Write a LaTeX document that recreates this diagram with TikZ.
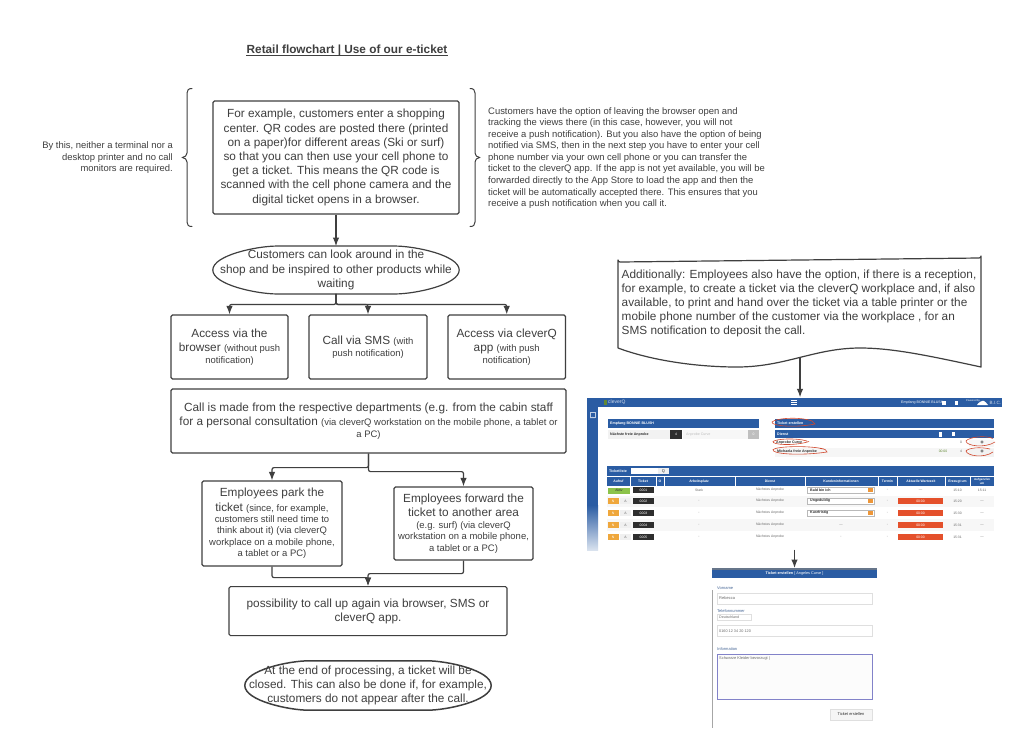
\documentclass[tikz,border=0pt]{standalone}
\usepackage{fontspec}
\setmainfont{Liberation Sans}
\usetikzlibrary{arrows.meta,calc,shapes.geometric}
\definecolor{ink}{HTML}{3F3F3F}
\definecolor{uiblue}{HTML}{2A5CA3}
\definecolor{uired}{HTML}{E4502B}
\definecolor{uiorange}{HTML}{EFA73C}
\definecolor{uigreen}{HTML}{8CC34A}
\definecolor{uidark}{HTML}{2E2E2E}
\definecolor{uitxt}{HTML}{6A6A6A}
\definecolor{circ}{HTML}{D0492F}
\newcommand{\mainsz}{\fontsize{11.8}{14.2}\selectfont}
\newcommand{\smallsz}{\fontsize{9.45}{11.4}\selectfont}
\newcounter{uic}
\newcommand{\uitext}[4][uitxt]{\stepcounter{uic}\node[text=#1,inner sep=0pt,font=\fontsize{3.4}{4}\selectfont] (ut\theuic) at (#2,#3) {#4};}
\newcommand{\uileft}[4][uitxt]{\stepcounter{uic}\node[text=#1,inner sep=0pt,anchor=west,font=\fontsize{3.6}{4}\selectfont] (ut\theuic) at (#2,#3) {#4};}
\newcommand{\termpath}[1]{%
  \draw[line] (#1.west)
    .. controls ($(#1.west)!0.62!(#1.north west)$) and ($(#1.north west)!0.18!(#1.north east)$) .. ($(#1.north west)!0.26!(#1.north east)$)
    -- ($(#1.north west)!0.74!(#1.north east)$)
    .. controls ($(#1.north west)!0.82!(#1.north east)$) and ($(#1.east)!0.62!(#1.north east)$) .. (#1.east)
    .. controls ($(#1.east)!0.62!(#1.south east)$) and ($(#1.south west)!0.82!(#1.south east)$) .. ($(#1.south west)!0.74!(#1.south east)$)
    -- ($(#1.south west)!0.26!(#1.south east)$)
    .. controls ($(#1.south west)!0.18!(#1.south east)$) and ($(#1.west)!0.62!(#1.south west)$) .. (#1.west) -- cycle;}
\tikzset{
  line/.style={draw=ink,line width=1.2pt},
  flowbox/.style={line,rounded corners=1.5pt,align=center,text=ink,font=\mainsz,inner sep=0pt},
  termbox/.style={align=center,text=ink,font=\mainsz,inner sep=0pt},
  nudge/.style={execute at begin node={\rule{0pt}{11pt}}},
  arr/.style={line,rounded corners=2pt,-{Latex[length=8.5pt,width=6.5pt]}},
  side/.style={text=ink,font=\fontsize{9.43}{11.55}\selectfont,inner sep=0pt},
  red/.style={draw=circ,line width=0.6pt},
}
\begin{document}
\begin{tikzpicture}[x=1pt,y=-1pt]
\useasboundingbox (0,0) rectangle (1024,750);
\fill[white] (0,0) rectangle (1024,750);

\node[text=ink,inner sep=0pt,font=\bfseries\fontsize{11.8}{14}\selectfont] (title) at (347,50.5) {Retail flowchart | Use of our e-ticket};
\draw[ink,line width=0.9pt] ($(title.south west)+(0,-0.8)$) -- ($(title.south east)+(0,-0.8)$);

% left column
\node[flowbox,nudge,minimum width=246pt,minimum height=113pt] (b1) at (336,157.5) {For example, customers enter a shopping\\center. QR codes are posted there (printed\\on a paper)for different areas (Ski or surf)\\so that you can then use your cell phone to\\get a ticket. This means the QR code is\\scanned with the cell phone camera and the\\digital ticket opens in a browser.};

\node[side,anchor=east,align=right] (lefttxt) at (173,158) {By this, neither a terminal nor a\\desktop printer and no call\\monitors are required.};
\node[side,anchor=west,align=left] (righttxt) at (488,158) {Customers have the option of leaving the browser open and\\tracking the views there (in this case, however, you will not\\receive a push notification). But you also have the option of being\\notified via SMS, then in the next step you have to enter your cell\\phone number via your own cell phone or you can transfer the\\ticket to the cleverQ app. If the app is not yet available, you will be\\forwarded directly to the App Store to load the app and then the\\ticket will be automatically accepted there. This ensures that you\\receive a push notification when you call it.};

% braces
\draw[line,line width=1pt,line cap=round] (192,88.5) .. controls (188.5,88.5) and (187,90) .. (187,93) -- (187,153) .. controls (187,155.5) and (185,157) .. (182.5,157.5) .. controls (185,158) and (187,159.5) .. (187,162) -- (187,222) .. controls (187,225) and (188.5,226.5) .. (192,226.5);
\draw[line,line width=1pt,line cap=round] (470,88.5) .. controls (473.5,88.5) and (475,90) .. (475,93) -- (475,153) .. controls (475,155.5) and (477,157) .. (479.5,157.5) .. controls (477,158) and (475,159.5) .. (475,162) -- (475,222) .. controls (475,225) and (473.5,226.5) .. (470,226.5);

\node[termbox,nudge,minimum width=246pt,minimum height=47.5pt] (e1) at (336,270) {Customers can look around in the\\shop and be inspired to other products while\\waiting};
\termpath{e1}
\draw[arr] (b1.south) -- (e1.north);

\node[flowbox,nudge,minimum width=117pt,minimum height=64pt] (a) at (229.5,347) {Access via the\\browser {\smallsz (without push}\\[-2.4pt]{\smallsz notification)}};
\node[flowbox,nudge,minimum width=118pt,minimum height=64pt] (s) at (368,347) {Call via SMS {\smallsz (with}\\[-2.4pt]{\smallsz push notification)}};
\node[flowbox,nudge,minimum width=117.5pt,minimum height=64pt] (c) at (506.7,347) {Access via cleverQ\\app {\smallsz (with push}\\[-2.4pt]{\smallsz notification)}};
\draw[arr] (e1.south) -- ++(0,10.5) -| (a.north);
\draw[arr] (e1.south) -- ++(0,10.5) -| (s.north);
\draw[arr] (e1.south) -- ++(0,10.5) -| (c.north);

\node[flowbox,nudge,minimum width=395pt,minimum height=64pt] (d) at (368.5,421) {Call is made from the respective departments (e.g. from the cabin staff\\for a personal consultation {\smallsz (via cleverQ workstation on the mobile phone, a tablet or}\\[-2.4pt]{\smallsz a PC)}};

\node[flowbox,minimum width=140pt,minimum height=85pt] (p) at (272,523.5) {Employees park the\\ticket {\smallsz (since, for example,}\\[-2.8pt]{\smallsz customers still need time to}\\[-2.8pt]{\smallsz think about it) (via cleverQ}\\[-2.8pt]{\smallsz workplace on a mobile phone,}\\[-2.8pt]{\smallsz a tablet or a PC)}};
\node[flowbox,minimum width=139pt,minimum height=73pt] (f) at (463.5,523.5) {Employees forward the\\ticket to another area\\[-2.6pt]{\smallsz (e.g. surf) (via cleverQ}\\[-2.8pt]{\smallsz workstation on a mobile phone,}\\[-2.8pt]{\smallsz a tablet or a PC)}};
\draw[arr] (d.south) -- ++(0,14) -| (p.north);
\draw[arr] (d.south) -- ++(0,18) -| (f.north);

\node[flowbox,minimum width=278pt,minimum height=49pt,anchor=north] (g) at (368,586) {possibility to call up again via browser, SMS or\\cleverQ app.\\[-12pt]~};
\draw[arr] (p.south) -- ++(0,11) -| (g.north);
\draw[arr] (f.south) -- ++(0,13) -| (g.north);

\node[termbox,nudge,minimum width=246pt,minimum height=49pt] (e2) at (368,685.5) {At the end of processing, a ticket will be\\closed. This can also be done if, for example,\\customers do not appear after the call.};
\begin{scope}[line/.append style={line width=1.5pt}]
\termpath{e2}
\end{scope}

% note
\node[text=ink,font=\mainsz,align=left,inner sep=0pt,anchor=west] (note) at (621.5,303.5) {Additionally: Employees also have the option, if there is a reception,\\for example, to create a ticket via the cleverQ workplace and, if also\\available, to print and hand over the ticket via a table printer or the\\mobile phone number of the customer via the workplace , for an\\SMS notification to deposit the call.};
\draw[line,line join=round] (618,348) -- (618,260) arc[start angle=180,end angle=270,radius=2pt] -- (979,258) arc[start angle=270,end angle=360,radius=2pt] -- (981,367)
  .. controls (930,356) and (893,348) .. (860,348)
  .. controls (815,348) and (785,367) .. (737,367)
  .. controls (695,367) and (650,360) .. (618,348) -- cycle;
\coordinate (noteb) at (800,358);

% screenshot frame
\node[minimum width=415pt,minimum height=152pt,inner sep=0pt] (ui) at (794.5,473.5) {};
\draw[arr] (noteb) -- (noteb |- ui.north);

% screenshot: top bar and sidebar
\fill[uiblue] (587,398) rectangle (1002,407);
\fill[uiblue] (587,407) rectangle (598,505);
\shade[top color=uiblue,bottom color=uiblue!18] (587,505) rectangle (598,550);
\draw[white!70!uiblue,line width=0.5pt] (590,412.5) rectangle (595,417);
\fill[white!70!uiblue] (590,418) -- (595,418) -- (592.5,416.8) -- cycle;
\fill[uigreen!70!black] (604,399.5) rectangle (607,405);
\uileft[white!80!uiblue]{608}{402.5}{\fontsize{5}{5}\selectfont cleverQ}
\foreach \yy in {400.3,402.3,404.3} \fill[white] (791,\yy) rectangle (797,\yy+1);
\uileft[white]{901}{402.5}{Empfang BONNIE BLUSH}
\fill[white] (942,400.5) rectangle (946,404.5);
\fill[white] (955,400.5) rectangle (957.5,404.5);
\uileft[white]{966}{400.5}{\fontsize{2.6}{3}\selectfont Powered by}
\fill[white] (977,405) .. controls (978,403) and (982,400) .. (984,401) .. controls (985,402) and (987,403) .. (988,405) -- cycle;
\uileft[white!80!uiblue]{989.5}{402.5}{\fontsize{4.6}{5}\selectfont B.I.C.}

% upper left panel
\fill[uiblue] (608,419) rectangle (759,428);
\uileft[white]{610}{423.5}{\bfseries Empfang BONNIE BLUSH}
\fill[gray!10] (608,430) rectangle (670,438.5);
\uileft[uidark]{610}{434.3}{\bfseries Nächste freie Anprobe}
\fill[uidark] (670,430) rectangle (682,438.5);
\uitext[white]{676}{434.3}{4}
\fill[gray!6] (683,430) rectangle (748,438.5);
\uileft[gray!50]{686}{434.3}{Anprobe Curve}
\fill[gray!50] (748,430) rectangle (759,438.5);
\uitext[white]{753.5}{434.3}{0}

% upper right panel
\fill[uiblue] (775,419) rectangle (994,428);
\uileft[white]{777}{423.5}{\bfseries Ticket erstellen}
\fill[uiblue] (775,430) rectangle (994,438);
\uileft[white]{777}{434}{\bfseries Dienst}
\fill[white] (939,431.5) rectangle (941.5,436.5);
\fill[white] (952,432) rectangle (955,436);
\uileft[uidark]{776}{442.5}{\bfseries Anprobe Curve}
\fill[gray!7] (775,448) rectangle (994,457);
\uileft[uidark]{777}{451.8}{\bfseries Michaela freie Anprobe}
\uitext[uigreen!70!black]{943}{451.8}{00:00}
\uitext[uitxt]{961}{442.5}{0}
\uitext[uitxt]{961}{451.8}{4}
\fill[gray!7] (969,439.5) rectangle (994,447);
\uitext[uidark]{982}{442.5}{\fontsize{6}{6}\selectfont\bfseries +}
\fill[gray!10] (969,449) rectangle (994,456.5);
\uitext[uidark]{982}{451.8}{\fontsize{6}{6}\selectfont\bfseries +}

% ticket list
\fill[uiblue] (607,466) rectangle (994,475.5);
\uileft[white]{609}{470.8}{\bfseries Ticketliste}
\fill[white] (631,468) rectangle (658,474);
\fill[gray!12] (658,468) rectangle (669,474);
\uitext[uidark]{663.5}{471}{\fontsize{4}{4}\selectfont Q}
\fill[uiblue] (607,477) rectangle (994,486);
\foreach \xx in {630,656,664,735,805,878,897,945,970} \draw[white,line width=0.4pt] (\xx,477) -- (\xx,486);
\uitext[white]{618.5}{481.5}{\bfseries Aufruf}
\uitext[white]{643}{481.5}{\bfseries Ticket}
\uitext[white]{660}{481.5}{\bfseries O}
\uitext[white]{699}{481.5}{\bfseries Arbeitsplatz}
\uitext[white]{770}{481.5}{\bfseries Dienst}
\uitext[white]{841}{481.5}{\bfseries Kundeninformationen}
\uitext[white]{887.5}{481.5}{\bfseries Termin}
\uitext[white]{921}{481.5}{\bfseries Aktuelle Wartezeit}
\uitext[white]{957.5}{481.5}{\bfseries Erzeugt um}
\stepcounter{uic}\node[text=white,inner sep=0pt,align=center,font=\bfseries\fontsize{3}{3.3}\selectfont] (ut\theuic) at (982,481.5) {Aufgerufen\\um};

\fill[gray!6] (607,495.5) rectangle (994,507);
\fill[gray!6] (607,519) rectangle (994,531);
\fill[uigreen] (608,487.5) rectangle (630,493.5);
\uitext[uidark]{619}{490.5}{Aktiv}
\foreach \yy [count=\ii] in {490,501,513,525,537} {
  \fill[uidark] (633,\yy-3) rectangle (654,\yy+3);
  \uitext[white]{643.5}{\yy}{000\ii}
  \uitext{770}{\yy}{Nächstes Anprobe}
}
\foreach \yy in {501,513,525,537} {
  \fill[uiorange] (608,\yy-3) rectangle (618.5,\yy+3);
  \fill[gray!12] (620,\yy-3) rectangle (631,\yy+3);
  \uitext[white]{613}{\yy}{N}
  \uitext{625.5}{\yy}{A}
  \fill[uired] (898,\yy-3) rectangle (943,\yy+3);
  \uitext[white]{920.5}{\yy}{00:00}
  \uitext{699}{\yy}{-}
  \uitext{887.5}{\yy}{-}
  \uitext{982}{\yy}{---}
}
\uitext{699}{490}{Stark}
\uitext{887.5}{490}{-}
\uitext{920.5}{490}{---}
\uitext{957.5}{490}{15:10}
\uitext{982}{490}{15:11}
\uitext{957.5}{501}{15:20}
\uitext{957.5}{513}{15:30}
\uitext{957.5}{525}{15:31}
\uitext{957.5}{537}{15:31}
\foreach \yy/\lbl in {490/Bald bin ich,501/Ungeduldig,513/Kurzfristig} {
  \draw[gray!55,fill=white,line width=0.3pt] (807,\yy-3) rectangle (874,\yy+3);
  \fill[uiorange!80!uired] (868,\yy-2) rectangle (873,\yy+2);
  \uileft[uidark]{810}{\yy}{\bfseries\lbl}
}
\uitext{841}{525}{---}
\uitext{841}{537}{-}

% red marks
\draw[red] (812,421) .. controls (800,416.5) and (776,418) .. (772,422) .. controls (771,426) and (795,428) .. (815,424) -- (812,421);
\draw[red] (807,441) .. controls (795,437.5) and (776,439) .. (773,441.5) .. controls (772,445) and (795,446) .. (809,441.5);
\draw[red] (824,449) .. controls (810,445.5) and (778,446) .. (773,449.5) .. controls (771,454) and (800,456) .. (827,452) .. controls (827,450) and (825,449) .. (820,448.5);
\draw[red] (993,438.5) .. controls (985,435) and (969,437) .. (966,441) .. controls (966,446) and (985,448.5) .. (995,442);
\draw[red] (990,449) .. controls (980,446.5) and (968,448) .. (966,451) .. controls (967,456) and (984,458.5) .. (993,452);

% form
\node[minimum width=165pt,minimum height=160pt,inner sep=0pt,anchor=north] (form) at (794.5,568) {};
\draw[arr] (ui.south -| form.north) -- (form.north);
\fill[gray!70!uiblue] (712,568) rectangle (877,569.5);
\fill[uiblue] (712,569.5) rectangle (877,578);
\uitext[white]{794.5}{574}{\fontsize{3.8}{4}\selectfont\bfseries Ticket erstellen \mdseries [ Angeles Curve ]}
\draw[gray!70,line width=0.6pt] (712,590) -- (712,728);
\uileft[uiblue!65!gray]{717}{588}{\fontsize{4}{4}\selectfont Vorname}
\draw[gray!25,line width=0.6pt] (717,593.5) rectangle (872,604);
\uileft{719}{598.5}{\fontsize{4}{4}\selectfont Rebecca}
\uileft[uiblue!65!gray]{717}{611}{\fontsize{4}{4}\selectfont Telefonnummer}
\draw[gray!25,line width=0.6pt] (717,614) rectangle (751,620.5);
\uileft{719}{617}{\fontsize{3.6}{4}\selectfont Deutschland}
\draw[gray!25,line width=0.6pt] (717,625.5) rectangle (872,636);
\uileft{719}{631}{\fontsize{3.8}{4}\selectfont 0160 12 34 20 120}
\uileft[uiblue!65!gray]{717}{649}{\fontsize{4}{4}\selectfont Information}
\draw[gray!60!blue!70,fill=yellow!2!gray!3,line width=0.6pt] (717,654) rectangle (872,699);
\uileft{719}{658}{\fontsize{3.9}{4}\selectfont Schwarze Kleider bevorzugt |}
\fill[gray!8] (830,709) rectangle (872,720);
\draw[gray!25,line width=0.4pt] (830,709) rectangle (872,720);
\uitext[uidark]{851}{714.5}{\fontsize{4}{4}\selectfont Ticket erstellen}
\end{tikzpicture}
\end{document}
